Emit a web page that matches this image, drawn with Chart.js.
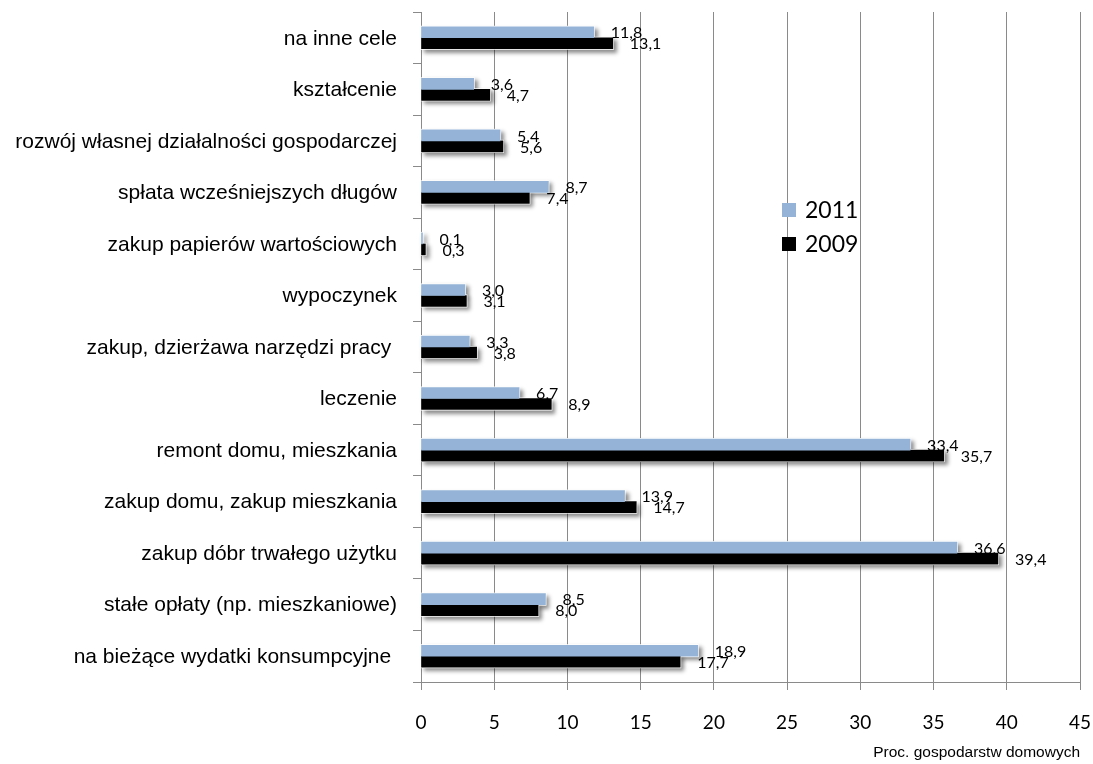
<!doctype html>
<html>
    <head>
        <meta charset="utf-8">
        <title>Cele wydatkowania</title>
        <script src="https://cdn.jsdelivr.net/npm/chart.js@4.4.1/dist/chart.umd.min.js"></script>
        <style>
            html, body { margin: 0; padding: 0; background: #fff; }
            .chartBox { width: 1093px; height: 764px; }
        </style>
    </head>
    <body>
        <div class="chartBox">
            <canvas id="barChart"></canvas>
        </div>

        <script>
        // categories, top to bottom
        var categories = [
            'na inne cele',
            'kształcenie',
            'rozwój własnej działalności gospodarczej',
            'spłata wcześniejszych długów',
            'zakup papierów wartościowych',
            'wypoczynek',
            'zakup, dzierżawa narzędzi pracy ',
            'leczenie',
            'remont domu, mieszkania',
            'zakup domu, zakup mieszkania',
            'zakup dóbr trwałego użytku',
            'stałe opłaty (np. mieszkaniowe)',
            'na bieżące wydatki konsumpcyjne '
        ];
        var seriesNames = ['2011', '2009'];
        var values2011 = [11.8, 3.6, 5.4, 8.7, 0.1, 3.0, 3.3, 6.7, 33.4, 13.9, 36.6, 8.5, 18.9];
        var values2009 = [13.1, 4.7, 5.6, 7.4, 0.3, 3.1, 3.8, 8.9, 35.7, 14.7, 39.4, 8.0, 17.7];
        var xTicks = [0, 5, 10, 15, 20, 25, 30, 35, 40, 45];
        var xTitle = 'Proc. gospodarstw domowych';

        var colors = ['#95B3D7', '#000000'];
        var gridGray = '#8a8a8a';

        // drop shadow + white outline under every bar
        var barShadow = {
            id: 'barShadow',
            beforeDatasetsDraw: function(chart) {
                var ctx = chart.ctx;
                ctx.save();
                ctx.shadowColor = 'rgba(0,0,0,0.45)';
                ctx.shadowBlur = 4;
                ctx.shadowOffsetX = 3;
                ctx.shadowOffsetY = 3;
                ctx.fillStyle = '#ffffff';
                chart.data.datasets.forEach(function(ds, i) {
                    chart.getDatasetMeta(i).data.forEach(function(bar) {
                        var h = bar.height + 2;
                        ctx.fillRect(bar.base - 1, bar.y - h / 2, bar.x - bar.base + 2, h);
                    });
                });
                ctx.restore();
            }
        };

        // value labels "11,8" to the right of bars
        var valueLabels = {
            id: 'valueLabels',
            afterDatasetsDraw: function(chart) {
                var ctx = chart.ctx;
                ctx.save();
                ctx.font = '16px Lato';
                ctx.fillStyle = '#000';
                ctx.textAlign = 'left';
                ctx.textBaseline = 'middle';
                chart.data.datasets.forEach(function(ds, i) {
                    chart.getDatasetMeta(i).data.forEach(function(bar, j) {
                        var txt = ds.data[j].toFixed(1).replace('.', ',');
                        ctx.fillText(txt, bar.x + 17, bar.y + 1);
                    });
                });
                ctx.restore();
            }
        };

        // legend inside the plot
        var insideLegend = {
            id: 'insideLegend',
            afterDraw: function(chart) {
                var ctx = chart.ctx;
                var x = 782, ys = [210, 244];
                ctx.save();
                ctx.font = '23px Lato';
                ctx.textAlign = 'left';
                ctx.textBaseline = 'middle';
                chart.data.datasets.forEach(function(ds, i) {
                    ctx.fillStyle = ds.backgroundColor;
                    ctx.fillRect(x, ys[i] - 7, 14, 14);
                    ctx.fillStyle = '#000';
                    ctx.fillText(ds.label, x + 23, ys[i] + 1);
                });
                ctx.restore();
            }
        };

        var barChart = new Chart(document.getElementById('barChart'), {
            type: 'bar',
            data: {
                labels: categories,
                datasets: [
                    { label: seriesNames[0], data: values2011, backgroundColor: colors[0] },
                    { label: seriesNames[1], data: values2009, backgroundColor: colors[1] }
                ]
            },
            options: {
                indexAxis: 'y',
                responsive: true,
                maintainAspectRatio: false,
                animation: false,
                layout: { padding: { top: 12, right: 13, left: 0, bottom: 0 } },
                datasets: {
                    bar: { barThickness: 11, categoryPercentage: 0.58, barPercentage: 1 }
                },
                scales: {
                    x: {
                        min: 0,
                        max: 45,
                        afterBuildTicks: function(scale) {
                            scale.ticks = xTicks.map(function(v) { return { value: v }; });
                        },
                        afterFit: function(scale) {
                            scale.height = 82;
                            scale.paddingLeft = 0;
                            scale.paddingRight = 0;
                        },
                        grid: { color: gridGray, lineWidth: 1, tickLength: 8, drawOnChartArea: true },
                        border: { color: gridGray, width: 1 },
                        ticks: {
                            color: '#000',
                            padding: 21,
                            font: { family: 'Lato', size: 19 }
                        },
                        title: {
                            display: true,
                            text: xTitle,
                            align: 'end',
                            color: '#000',
                            font: { family: 'Liberation Sans', size: 15.5 },
                            padding: { top: 0, bottom: 2 }
                        }
                    },
                    y: {
                        afterFit: function(scale) {
                            scale.width = 421;
                            scale.paddingTop = 0;
                            scale.paddingBottom = 0;
                        },
                        grid: { color: gridGray, drawOnChartArea: false, tickLength: 8, offset: true },
                        border: { color: gridGray, width: 1 },
                        ticks: {
                            color: '#000',
                            padding: 16,
                            labelOffset: 1,
                            autoSkip: false,
                            font: { family: 'Liberation Sans', size: 21 }
                        }
                    }
                },
                plugins: {
                    legend: { display: false },
                    tooltip: { enabled: false }
                }
            },
            plugins: [barShadow, valueLabels, insideLegend]
        });
        </script>
    </body>
</html>
